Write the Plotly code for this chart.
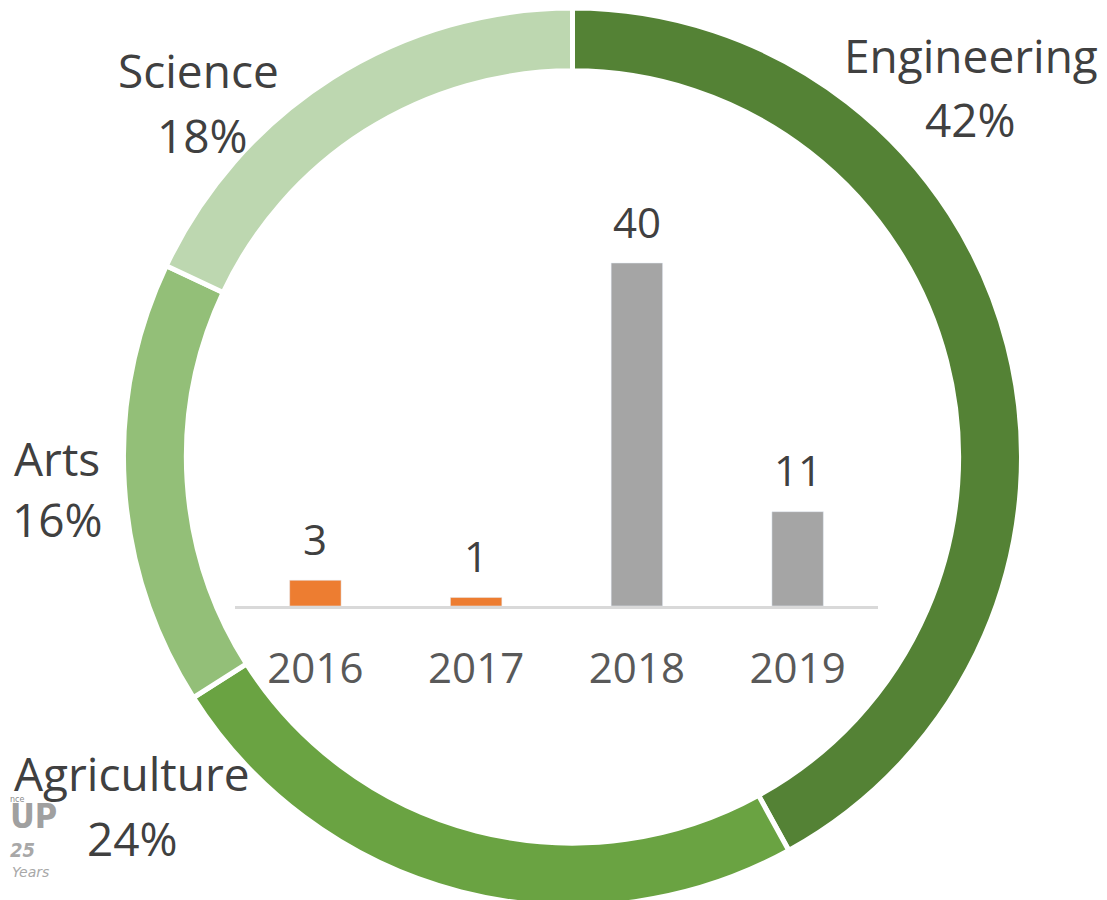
import plotly.graph_objects as go

# Donut data
fields = ["Engineering", "Agriculture", "Arts", "Science"]
shares = [42, 24, 16, 18]
ring_colors = ["#548235", "#6AA342", "#93BF78", "#BDD7B0"]

# Bar data
years = ["2016", "2017", "2018", "2019"]
counts = [3, 1, 40, 11]
bar_colors = ["#ED7D31", "#ED7D31", "#A5A5A5", "#A5A5A5"]

W, H = 1107, 900
OFF = 8  # default page body margin
FONT = "Open Sans"
TXT = "#404040"


def px(x):
    return min(max((x - OFF) / W, 0), 1)


def py(y):
    return min(max(1 - (y - OFF) / H, 0), 1)


fig = go.Figure()

# donut geometry (target pixels in the screenshot)
cx, R = 572.5, 449
fig.add_trace(go.Pie(
    labels=fields, values=shares, sort=False, direction="clockwise", rotation=0,
    hole=0.86, marker=dict(colors=ring_colors, line=dict(color="white", width=5)),
    textinfo="none", textposition="none", showlegend=False, hoverinfo="label+percent",
    domain=dict(x=[px(cx - R), px(cx + R)], y=[py(OFF + 2 * R), py(OFF)]),
))

fig.add_trace(go.Bar(
    x=years, y=counts, marker=dict(color=bar_colors), width=0.32,
    showlegend=False, hoverinfo="x+y",
))

ax_left, ax_right, ax_y = 235, 878, 606
px_per_unit = (606 - 263) / 40
ymax = 45
fig.update_layout(
    width=W, height=H, margin=dict(l=0, r=0, t=0, b=0),
    paper_bgcolor="white", plot_bgcolor="rgba(0,0,0,0)",
    font=dict(family=FONT, color=TXT),
    xaxis=dict(type="category", domain=[px(ax_left), px(ax_right)],
               range=[-0.5, len(years) - 0.5], fixedrange=True,
               showgrid=False, zeroline=False,
               showline=True, linecolor="#D9D9D9", linewidth=3,
               ticks="outside", ticklen=24, tickcolor="rgba(0,0,0,0)",
               tickfont=dict(family=FONT, size=42, color="#595959")),
    yaxis=dict(domain=[py(ax_y), py(ax_y - ymax * px_per_unit)],
               range=[0, ymax], fixedrange=True, visible=False),
)

# bar value labels (x given as category index)
for i, v in enumerate(counts):
    fig.add_annotation(text=str(v), x=i, y=v, xref="x", yref="y", showarrow=False,
                       yanchor="middle", yshift=42,
                       font=dict(family=FONT, size=42, color=TXT))

# ring labels: (name x, name y, pct x, pct y) in screenshot pixels
label_pos = {
    "Engineering": (971, 55, 970, 119),
    "Science": (198, 70, 202, 135),
    "Arts": (57, 458, 57, 519),
    "Agriculture": (132, 773, 132, 838),
}
for name, share in zip(fields, shares):
    nx, ny, qx, qy = label_pos[name]
    fig.add_annotation(text=name, x=px(nx), y=py(ny), xref="paper", yref="paper",
                       showarrow=False, xanchor="center", yanchor="middle",
                       font=dict(family=FONT, size=46, color=TXT))
    fig.add_annotation(text=f"{share}%", x=px(qx), y=py(qy), xref="paper", yref="paper",
                       showarrow=False, xanchor="center", yanchor="middle",
                       font=dict(family=FONT, size=46, color=TXT))

# small logo in the bottom-left corner
fig.add_annotation(text="nce", x=px(8), y=py(806), xref="paper", yref="paper", xanchor="left",
                   showarrow=False, font=dict(family="DejaVu Sans", size=8, color="#8A8A8A"))
fig.add_annotation(text="<b>UP</b>", x=px(8), y=py(838), xref="paper", yref="paper", xanchor="left",
                   showarrow=False, font=dict(family="DejaVu Sans Condensed", size=34, color="#A0A0A0"))
fig.add_annotation(text="<i><b>25</b></i>", x=px(8), y=py(864), xref="paper", yref="paper", xanchor="left",
                   showarrow=False, font=dict(family="DejaVu Sans Condensed", size=20, color="#A8A8A8"))
fig.add_annotation(text="<i>Years</i>", x=px(10), y=py(882), xref="paper", yref="paper", xanchor="left",
                   showarrow=False, font=dict(family="DejaVu Sans", size=14, color="#A8A8A8"))

fig.write_html("out.html")
